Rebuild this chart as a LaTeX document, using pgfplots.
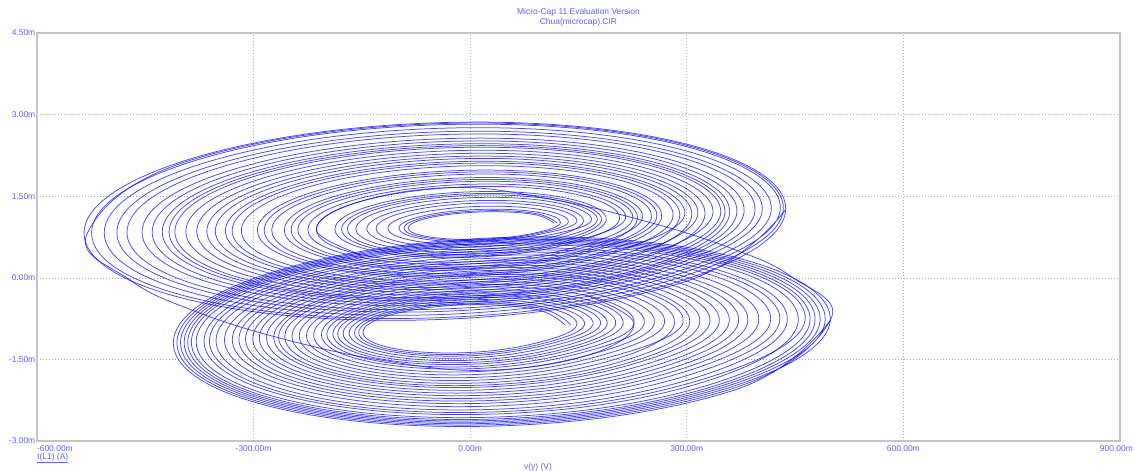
\documentclass[border=0pt]{standalone}
\usepackage{pgfplots}
\pgfplotsset{compat=1.18}
\usepackage{fontspec}
\setmainfont{Liberation Sans}
\definecolor{mcblue}{RGB}{0,0,255}
\definecolor{mctext}{RGB}{95,95,255}
\definecolor{mcgrid}{RGB}{170,170,170}
\definecolor{mcframe}{RGB}{195,195,195}
\pgfplotsset{trace/.style={mcblue, line width=0.75bp, smooth, tension=0.68, opacity=0.72, mark=none}}

\begin{document}
\begin{tikzpicture}[x=1bp,y=1bp]
\useasboundingbox (-37bp,-30bp) rectangle (1097bp,441bp);
\begin{axis}[
  at={(0,0)}, anchor=south west,
  scale only axis, width=1083bp, height=408bp,
  xmin=-600, xmax=900, ymin=-3, ymax=4.5,
  xtick={-600,-300,0,300,600,900},
  xticklabels={{\makebox[0pt][l]{-600.00m}},-300.00m,0.00m,300.00m,600.00m,{\makebox[0pt][r]{900.00m\hspace{-13bp}}}},
  ytick={-3,-1.5,0,1.5,3,4.5},
  yticklabels={-3.00m,-1.50m,0.00m,1.50m,3.00m,4.50m},
  major tick length=0pt,
  tick label style={font=\fontsize{8.5}{10}\selectfont, text=mctext},
  xticklabel style={anchor=north, yshift=-1bp},
  yticklabel style={inner sep=1.5bp},
  grid=major,
  major grid style={mcgrid, line width=0.6bp, dash pattern=on 1.2bp off 1.8bp},
  axis line style={mcframe, line width=1.5bp},
  title={Micro-Cap 11 Evaluation Version\\Chua(microcap).CIR},
  title style={font=\fontsize{8.5}{10}\selectfont, text=mctext, align=center,
    at={(axis description cs:0.5,1)}, anchor=south, inner sep=1bp},
  xlabel={v(y) (V)},
  xlabel style={font=\fontsize{8.5}{10}\selectfont, text=mctext,
    at={(axis description cs:0.4626,0)}, anchor=center, yshift=-26bp},
]
% upper scroll: nested rings around the positive equilibrium
\addplot[trace] coordinates {
(116,1.005) (86.4,1.169) (15,1.21) (-56.4,1.105) (-86,0.915) (-56.4,0.751) (15,0.71) (86.4,0.815)
(125.2,1.012) (92.4,1.207) (13.2,1.257) (-66.0,1.135) (-98.8,0.912) (-66.0,0.717) (13.2,0.667) (92.4,0.789)
(147.7,1.031) (107.0,1.298) (8.7,1.372) (-89.6,1.210) (-130.3,0.905) (-89.6,0.638) (8.7,0.564) (107.0,0.726)
(156.9,1.038) (113.0,1.335) (6.9,1.418) (-99.2,1.239) (-143.1,0.903) (-99.2,0.605) (6.9,0.522) (113.0,0.701)
(176.0,1.053) (125.3,1.413) (3.0,1.517) (-119.3,1.303) (-170.0,0.897) (-119.3,0.537) (3.0,0.433) (125.3,0.647)
(188.6,1.063) (133.5,1.464) (0.6,1.580) (-132.3,1.344) (-187.4,0.893) (-132.3,0.492) (0.6,0.376) (133.5,0.612)
(206.9,1.078) (145.4,1.539) (-3.1,1.674) (-151.6,1.405) (-213.1,0.889) (-151.6,0.427) (-3.1,0.292) (145.4,0.561)
(225.3,1.091) (157.3,1.613) (-6.7,1.768) (-170.7,1.465) (-238.7,0.883) (-170.7,0.361) (-6.7,0.206) (157.3,0.509)
(231.9,1.097) (161.6,1.640) (-8.1,1.802) (-177.8,1.488) (-248.1,0.881) (-177.8,0.338) (-8.1,0.176) (161.6,0.490)
(251.1,1.112) (174.0,1.719) (-11.9,1.900) (-197.8,1.551) (-274.9,0.876) (-197.8,0.269) (-11.9,0.088) (174.0,0.437)
(265.3,1.123) (183.3,1.775) (-14.7,1.972) (-212.7,1.597) (-294.7,0.871) (-212.7,0.219) (-14.7,0.022) (183.3,0.397)
(281.1,1.136) (193.5,1.840) (-17.9,2.053) (-229.3,1.650) (-316.9,0.866) (-229.3,0.162) (-17.9,-0.051) (193.5,0.352)
(290.3,1.144) (199.5,1.878) (-19.7,2.100) (-238.9,1.680) (-329.7,0.865) (-238.9,0.130) (-19.7,-0.092) (199.5,0.328)
(315.3,1.163) (215.7,1.979) (-24.7,2.228) (-265.1,1.763) (-364.7,0.857) (-265.1,0.041) (-24.7,-0.208) (215.7,0.257)
(325.3,1.170) (222.2,2.020) (-26.7,2.279) (-275.6,1.796) (-378.7,0.854) (-275.6,0.004) (-26.7,-0.255) (222.2,0.228)
(347.0,1.188) (236.2,2.108) (-31.0,2.390) (-298.2,1.868) (-409.0,0.848) (-298.2,-0.072) (-31.0,-0.354) (236.2,0.168)
(359.5,1.198) (244.4,2.159) (-33.5,2.454) (-311.4,1.909) (-426.5,0.844) (-311.4,-0.117) (-33.5,-0.412) (244.4,0.133)
(379.5,1.214) (257.3,2.241) (-37.5,2.556) (-332.3,1.975) (-454.5,0.838) (-332.3,-0.189) (-37.5,-0.504) (257.3,0.077)
(404.6,1.233) (273.6,2.341) (-42.4,2.683) (-358.4,2.057) (-489.4,0.831) (-358.4,-0.277) (-42.4,-0.619) (273.6,0.007)
(429.6,1.253) (289.8,2.444) (-47.4,2.811) (-384.6,2.140) (-524.4,0.823) (-384.6,-0.368) (-47.4,-0.735) (289.8,-0.064)
(437.1,1.259) (294.7,2.474) (-48.9,2.849) (-392.5,2.164) (-534.9,0.821) (-392.5,-0.394) (-48.9,-0.769) (294.7,-0.084)
(437.1,1.259)
};
% upper scroll, second pass, ending with a crossing into the lower scroll
\addplot[trace] coordinates {
(120.2,1.009) (89.1,1.186) (14.2,1.231) (-60.7,1.118) (-91.8,0.913) (-60.7,0.736) (14.2,0.691) (89.1,0.804)
(136.0,1.021) (99.4,1.250) (11.0,1.312) (-77.4,1.170) (-114.0,0.909) (-77.4,0.680) (11.0,0.618) (99.4,0.760)
(167.7,1.046) (119.9,1.379) (4.7,1.474) (-110.5,1.275) (-158.3,0.900) (-110.5,0.567) (4.7,0.472) (119.9,0.671)
(181.9,1.057) (129.2,1.436) (1.9,1.546) (-125.4,1.322) (-178.1,0.895) (-125.4,0.516) (1.9,0.406) (129.2,0.630)
(215.2,1.084) (150.7,1.573) (-4.8,1.717) (-160.3,1.433) (-224.8,0.886) (-160.3,0.397) (-4.8,0.253) (150.7,0.537)
(238.6,1.103) (165.9,1.667) (-9.4,1.836) (-184.7,1.509) (-257.4,0.879) (-184.7,0.315) (-9.4,0.146) (165.9,0.473)
(258.6,1.118) (178.9,1.750) (-13.4,1.939) (-205.7,1.576) (-285.4,0.874) (-205.7,0.242) (-13.4,0.053) (178.9,0.416)
(297.0,1.148) (203.8,1.904) (-21.0,2.134) (-245.8,1.702) (-339.0,0.862) (-245.8,0.106) (-21.0,-0.124) (203.8,0.308)
(307.0,1.157) (210.3,1.945) (-23.0,2.185) (-256.3,1.735) (-353.0,0.860) (-256.3,0.071) (-23.0,-0.169) (210.3,0.281)
(336.2,1.179) (229.3,2.064) (-28.8,2.334) (-286.9,1.832) (-393.8,0.851) (-286.9,-0.034) (-28.8,-0.304) (229.3,0.198)
(352.9,1.192) (240.1,2.131) (-32.1,2.419) (-304.3,1.887) (-417.1,0.846) (-304.3,-0.093) (-32.1,-0.381) (240.1,0.151)
(369.5,1.205) (250.8,2.199) (-35.5,2.504) (-321.8,1.941) (-440.5,0.841) (-321.8,-0.153) (-35.5,-0.458) (250.8,0.105)
(394.6,1.225) (267.1,2.301) (-40.4,2.632) (-347.9,2.023) (-475.4,0.833) (-347.9,-0.243) (-40.4,-0.574) (267.1,0.035)
(417.1,1.243) (281.7,2.392) (-44.9,2.747) (-371.5,2.098) (-506.9,0.827) (-371.5,-0.322) (-44.9,-0.677) (281.7,-0.028)
(433.8,1.256) (292.6,2.460) (-48.2,2.832) (-389.0,2.154) (-530.2,0.822) (-470,-0.05) (-380,-0.62) (-260,-1.12)
(-120,-1.52) (20,-1.70) (162.1,-1.427) (227.1,-0.848) (162.1,-0.329)
};
% lower scroll: nested rings around the negative equilibrium
\addplot[trace] coordinates {
(131.5,-0.873) (90.5,-0.580) (-8.5,-0.497) (-107.5,-0.672) (-148.5,-1.001) (-107.5,-1.294) (-8.5,-1.377) (90.5,-1.202)
(147.8,-0.868) (102.7,-0.538) (-6.2,-0.442) (-115.1,-0.638) (-160.2,-1.010) (-115.1,-1.340) (-6.2,-1.436) (102.7,-1.240)
(170.0,-0.862) (119.3,-0.479) (-3.0,-0.367) (-125.3,-0.591) (-176.0,-1.022) (-125.3,-1.405) (-3.0,-1.517) (119.3,-1.293)
(189.8,-0.858) (134.1,-0.427) (-0.2,-0.300) (-134.5,-0.551) (-190.2,-1.032) (-134.5,-1.463) (-0.2,-1.590) (134.1,-1.339)
(211.9,-0.852) (150.7,-0.369) (2.9,-0.225) (-144.9,-0.505) (-206.1,-1.044) (-144.9,-1.527) (2.9,-1.671) (150.7,-1.391)
(241.1,-0.845) (172.5,-0.294) (7.1,-0.128) (-158.3,-0.446) (-226.9,-1.061) (-158.3,-1.612) (7.1,-1.778) (172.5,-1.460)
(269.1,-0.838) (193.5,-0.220) (11.1,-0.033) (-171.3,-0.388) (-246.9,-1.076) (-171.3,-1.694) (11.1,-1.881) (193.5,-1.526)
(283.1,-0.835) (204.0,-0.183) (13.1,0.014) (-177.8,-0.359) (-256.9,-1.083) (-177.8,-1.735) (13.1,-1.932) (204.0,-1.559)
(304.0,-0.829) (219.6,-0.128) (16.0,0.085) (-187.6,-0.316) (-272.0,-1.095) (-187.6,-1.796) (16.0,-2.009) (219.6,-1.608)
(332.0,-0.822) (240.6,-0.055) (20.0,0.179) (-200.6,-0.257) (-292.0,-1.109) (-200.6,-1.877) (20.0,-2.111) (240.6,-1.675)
(358.8,-0.816) (260.6,0.015) (23.8,0.269) (-213.0,-0.203) (-311.2,-1.124) (-213.0,-1.955) (23.8,-2.209) (260.6,-1.737)
(384.5,-0.809) (279.9,0.083) (27.5,0.357) (-224.9,-0.149) (-329.5,-1.137) (-224.9,-2.029) (27.5,-2.303) (279.9,-1.797)
(416.0,-0.801) (303.5,0.165) (32.0,0.462) (-239.5,-0.085) (-352.0,-1.155) (-239.5,-2.121) (32.0,-2.418) (303.5,-1.871)
(439.3,-0.795) (320.9,0.226) (35.3,0.541) (-250.3,-0.036) (-368.7,-1.167) (-250.3,-2.188) (35.3,-2.503) (320.9,-1.926)
(454.5,-0.791) (332.3,0.267) (37.5,0.593) (-257.3,-0.005) (-379.5,-1.175) (-257.3,-2.233) (37.5,-2.559) (332.3,-1.961)
(470.8,-0.788) (344.5,0.309) (39.8,0.647) (-264.9,0.029) (-391.2,-1.184) (-264.9,-2.281) (39.8,-2.619) (344.5,-2.001)
(484.8,-0.784) (355.0,0.345) (41.8,0.694) (-271.4,0.057) (-401.2,-1.192) (-271.4,-2.321) (41.8,-2.670) (355.0,-2.033)
(498.8,-0.781) (365.5,0.382) (43.8,0.741) (-277.9,0.086) (-411.2,-1.199) (-277.9,-2.362) (43.8,-2.721) (365.5,-2.066)
(498.8,-0.781)
};
% lower scroll, second pass, ending with a crossing into the upper scroll
\addplot[trace] coordinates {
(139.6,-0.870) (96.5,-0.558) (-7.4,-0.469) (-111.3,-0.654) (-154.4,-1.006) (-111.3,-1.318) (-7.4,-1.407) (96.5,-1.222)
(158.3,-0.865) (110.5,-0.509) (-4.7,-0.406) (-119.9,-0.615) (-167.7,-1.015) (-119.9,-1.371) (-4.7,-1.474) (110.5,-1.265)
(180.4,-0.860) (127.1,-0.452) (-1.6,-0.332) (-130.3,-0.570) (-183.6,-1.028) (-130.3,-1.436) (-1.6,-1.556) (127.1,-1.318)
(201.4,-0.855) (142.8,-0.397) (1.4,-0.261) (-140.0,-0.527) (-198.6,-1.039) (-140.0,-1.497) (1.4,-1.633) (142.8,-1.367)
(227.1,-0.848) (162.1,-0.329) (5.1,-0.174) (-151.9,-0.473) (-216.9,-1.052) (-151.9,-1.571) (5.1,-1.726) (162.1,-1.427)
(255.1,-0.842) (183.0,-0.256) (9.1,-0.080) (-164.8,-0.416) (-236.9,-1.068) (-164.8,-1.654) (9.1,-1.830) (183.0,-1.494)
(294.7,-0.831) (212.7,-0.152) (14.7,0.054) (-183.3,-0.334) (-265.3,-1.089) (-183.3,-1.768) (14.7,-1.974) (212.7,-1.586)
(318.0,-0.826) (230.1,-0.091) (18.0,0.132) (-194.1,-0.287) (-282.0,-1.102) (-194.1,-1.837) (18.0,-2.060) (230.1,-1.641)
(344.9,-0.819) (250.3,-0.022) (21.9,0.222) (-206.5,-0.232) (-301.1,-1.117) (-206.5,-1.914) (21.9,-2.158) (250.3,-1.704)
(371.7,-0.812) (270.3,0.050) (25.7,0.314) (-218.9,-0.176) (-320.3,-1.130) (-218.9,-1.992) (25.7,-2.256) (270.3,-1.766)
(399.7,-0.805) (291.3,0.123) (29.7,0.408) (-231.9,-0.117) (-340.3,-1.145) (-231.9,-2.073) (29.7,-2.358) (291.3,-1.833)
(428.8,-0.798) (313.1,0.199) (33.8,0.505) (-245.5,-0.059) (-361.2,-1.162) (-245.5,-2.159) (33.8,-2.465) (313.1,-1.901)
(463.8,-0.790) (339.3,0.290) (38.8,0.623) (-261.7,0.014) (-386.2,-1.181) (-261.7,-2.260) (38.8,-2.593) (339.3,-1.984)
(477.8,-0.786) (349.8,0.327) (40.8,0.671) (-268.2,0.043) (-396.2,-1.188) (-268.2,-2.301) (40.8,-2.645) (349.8,-2.017)
(491.8,-0.783) (360.2,0.364) (42.8,0.718) (-274.6,0.072) (-406.2,-1.196) (-274.6,-2.342) (42.8,-2.696) (360.2,-2.050)
(498.8,-0.781) (445,0.02) (360,0.55) (240,1.05) (110,1.45) (-20,1.66) (-151.6,1.405) (-213.1,0.889) (-151.6,0.427)
};
\end{axis}
\node[anchor=west, inner sep=0pt, text=mctext, font=\fontsize{8.5}{10}\selectfont] at (0bp,-17bp) {\underline{I(L1) (A)}};
\end{tikzpicture}
\end{document}
